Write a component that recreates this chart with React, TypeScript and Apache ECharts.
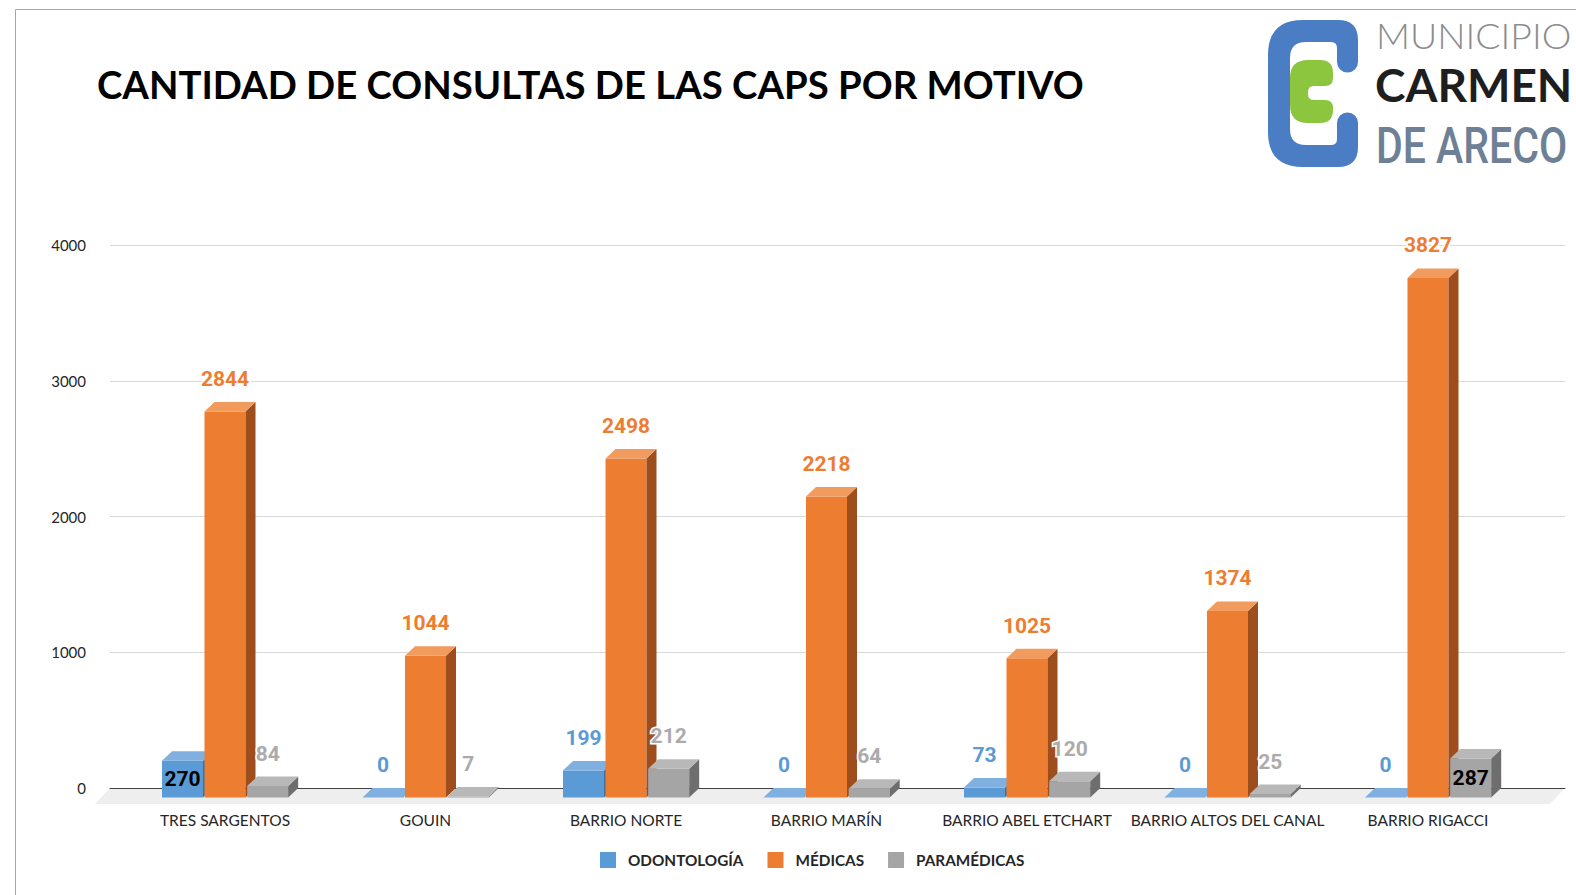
import React, { useEffect, useRef } from "react";
import * as echarts from "echarts";

const categories = [
  "TRES SARGENTOS",
  "GOUIN",
  "BARRIO NORTE",
  "BARRIO MARÍN",
  "BARRIO ABEL ETCHART",
  "BARRIO ALTOS DEL CANAL",
  "BARRIO RIGACCI",
];
const seriesNames = ["ODONTOLOGÍA", "MÉDICAS", "PARAMÉDICAS"];
const odontologia = [270, 0, 199, 0, 73, 0, 0];
const medicas = [2844, 1044, 2498, 2218, 1025, 1374, 3827];
const paramedicas = [84, 7, 212, 64, 120, 25, 287];
// labels drawn inside the front face (black) instead of above
const insideLabels = [[0], [], [6]];
const yMin = 0;
const yMax = 4000;
const yInterval = 1000;

const palettes = [
  { front: "#5B9BD5", top: "#7FB0E0", side: "#41719C", label: "#5B9BD5" },
  { front: "#ED7D31", top: "#F19B5E", side: "#9E4D1C", label: "#ED7D31" },
  { front: "#A5A5A5", top: "#B8B8B8", side: "#6E6E6E", label: "#ABABAB" },
];
const offsets = [-42.5, 0, 42.7];
const BAR_W = 41;
const DX = 10;
const DY = 9.5;

const blueC =
  "M 35 0 H 70 Q 90 0 90 20 V 42 A 10.5 10.5 0 0 1 69 42 V 28 Q 69 22 63 22 H 38 Q 22 22 22 38 V 109 Q 22 125 38 125 H 63 Q 69 125 69 119 V 103 A 10.5 10.5 0 0 1 90 103 V 127 Q 90 147 70 147 H 35 Q 0 147 0 112 V 35 Q 0 0 35 0 Z";
const greenC =
  "M 18 0 H 30 Q 43 0 43 13 V 18 Q 43 26 35 26 H 24 Q 18 26 18 32 V 34 Q 18 40 24 40 H 35 Q 43 40 43 48 V 50 Q 43 63 30 63 H 18 Q 0 63 0 45 V 18 Q 0 0 18 0 Z";

let registered = false;
function registerShapes() {
  if (registered) return;
  registered = true;
  echarts.graphic.registerShape("logoBlueC", echarts.graphic.extendPath(blueC, {}) as any);
  echarts.graphic.registerShape("logoGreenC", echarts.graphic.extendPath(greenC, {}) as any);
}

function makeSeries(idx: number, values: number[]) {
  const pal = palettes[idx];
  return {
    type: "custom",
    name: seriesNames[idx],
    xAxisIndex: 1,
    yAxisIndex: 1,
    itemStyle: { color: pal.front },
    data: values.map((v, i) => [i, v]),
    renderItem: (params: any, api: any) => {
      const ci = api.value(0);
      const v = api.value(1);
      const base = api.coord([ci, 0]);
      const topP = api.coord([ci, v]);
      const cx = base[0] + offsets[idx];
      const x0 = cx - BAR_W / 2;
      const x1 = cx + BAR_W / 2;
      const yb = base[1] + DY;
      const yt = topP[1] + DY;
      const children: any[] = [];
      if (yb - yt > 0.1) {
        children.push({
          type: "rect",
          shape: { x: x0, y: yt, width: BAR_W, height: yb - yt },
          style: { fill: pal.front },
        });
        children.push({
          type: "polygon",
          shape: { points: [[x1, yt], [x1 + DX, yt - DY], [x1 + DX, yb - DY], [x1, yb]] },
          style: { fill: pal.side },
        });
      }
      children.push({
        type: "polygon",
        shape: { points: [[x0, yt], [x1, yt], [x1 + DX, yt - DY], [x0 + DX, yt - DY]] },
        style: { fill: pal.top },
      });
      const inside = insideLabels[idx].indexOf(params.dataIndex) >= 0;
      children.push({
        type: "text",
        z2: 10,
        style: inside
          ? {
              text: String(v),
              x: cx,
              y: (yt + yb) / 2,
              align: "center",
              verticalAlign: "middle",
              fill: "#000",
              font: "bold 21px Roboto",
            }
          : {
              text: String(v),
              x: cx,
              y: topP[1] - 23,
              align: "center",
              verticalAlign: "middle",
              fill: pal.label,
              font: "bold 21px Roboto",
              stroke: "#fff",
              lineWidth: 3,
            },
      });
      return { type: "group", children };
    },
  };
}

export default function App() {
  const ref = useRef<HTMLDivElement>(null);
  useEffect(() => {
    if (!ref.current) return;
    registerShapes();
    const chart = echarts.init(ref.current, undefined, { renderer: "svg" });
    const option: any = {
      animation: false,
      backgroundColor: "#fff",
      grid: [
        { left: 110, right: 11, top: 245, bottom: 107, containLabel: false },
        { left: 124.75, width: 1403.5, top: 245, bottom: 107, containLabel: false },
      ],
      xAxis: [
        {
          gridIndex: 0,
          type: "category",
          data: categories,
          axisLine: { show: true, lineStyle: { color: "#404040", width: 1 } },
          axisTick: { show: false },
          axisLabel: { show: false },
          splitLine: { show: false },
        },
        {
          gridIndex: 1,
          type: "category",
          data: categories,
          axisLine: { show: false },
          axisTick: { show: false },
          axisLabel: {
            interval: 0,
            margin: 24,
            color: "#262626",
            fontFamily: "Lato",
            fontSize: 15.5,
          },
        },
      ],
      yAxis: [
        {
          gridIndex: 0,
          type: "value",
          min: yMin,
          max: yMax,
          interval: yInterval,
          axisLine: { show: false },
          axisTick: { show: false },
          axisLabel: {
            margin: 24,
            color: "#262626",
            fontFamily: "Lato",
            fontSize: 15,
            formatter: (v: number) => String(v),
          },
          splitLine: { lineStyle: { color: "#D9D9D9", width: 1 } },
        },
        {
          gridIndex: 1,
          type: "value",
          min: yMin,
          max: yMax,
          interval: yInterval,
          show: false,
          splitLine: { show: false },
        },
      ],
      legend: {
        left: 595,
        top: 847,
        icon: "rect",
        itemWidth: 16,
        itemHeight: 16,
        itemGap: 24,
        data: seriesNames,
        textStyle: {
          fontFamily: "Lato",
          fontWeight: "bold",
          fontSize: 15.3,
          color: "#262626",
          padding: [0, 0, 0, 7],
        },
      },
      graphic: [
        {
          type: "rect",
          z: -10,
          silent: true,
          shape: { x: 15.5, y: 9.5, width: 1700, height: 1000 },
          style: { fill: "none", stroke: "#A6A6A6", lineWidth: 1 },
        },
        {
          type: "polygon",
          z: -5,
          silent: true,
          shape: { points: [[110, 788], [1565, 788], [1550, 804], [95, 804]] },
          style: { fill: "#EEEEEE" },
        },
        {
          type: "text",
          x: 97,
          y: 84,
          style: {
            text: "CANTIDAD DE CONSULTAS DE LAS CAPS POR MOTIVO",
            verticalAlign: "middle",
            fill: "#000",
            font: "bold 38.3px Lato",
          },
        },
        {
          type: "logoBlueC",
          x: 1268,
          y: 20,
          scaleX: 1,
          scaleY: 1,
          style: { fill: "#4A7DC4" },
        },
        {
          type: "logoGreenC",
          x: 1290,
          y: 60,
          scaleX: 1,
          scaleY: 1,
          style: { fill: "#8CC63F" },
        },
        {
          type: "text",
          x: 1376,
          y: 35,
          scaleX: 1.07,
          style: {
            text: "MUNICIPIO",
            verticalAlign: "middle",
            fill: "#8C8C8C",
            font: "300 35px Lato",
          },
        },
        {
          type: "text",
          x: 1375,
          y: 84,
          style: {
            text: "CARMEN",
            verticalAlign: "middle",
            fill: "#1E1E1E",
            font: "bold 46px Lato",
          },
        },
        {
          type: "text",
          x: 1376,
          y: 146,
          scaleX: 0.82,
          style: {
            text: "DE ARECO",
            verticalAlign: "middle",
            fill: "#6D8096",
            font: "500 50px Roboto",
          },
        },
      ],
      series: [makeSeries(0, odontologia), makeSeries(1, medicas), makeSeries(2, paramedicas)],
    };
    chart.setOption(option);
    return () => chart.dispose();
  }, []);
  return (
    <div
      ref={ref}
      style={{ position: "fixed", left: 0, top: 0, width: 1576, height: 895, background: "#fff" }}
    />
  );
}
